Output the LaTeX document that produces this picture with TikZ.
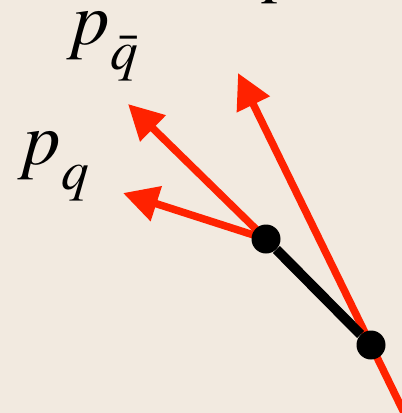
\documentclass[tikz,border=0pt]{standalone}
\usepackage{mathptmx}
\usepackage{xcolor}
\usetikzlibrary{arrows.meta}
\definecolor{paper}{HTML}{F2EAE0}
\definecolor{glred}{HTML}{FF2200}
\pgfdeclarelayer{bg}
\pgfsetlayers{bg,main}

\begin{document}
\begin{tikzpicture}[x=1pt, y=-1pt,
    dot/.style={circle, fill=black, minimum size=29pt, inner sep=0pt},
    parton/.style={draw=glred, line width=7.5pt,
      -{Triangle[length=35pt, width=35pt]}},
    stub/.style={draw=black, line width=10pt},
    lbl/.style={font=\fontsize{75}{80}\selectfont, inner sep=0pt,
      anchor=base west},
]
\useasboundingbox (0,0) rectangle (402,413);
\clip (0,0) rectangle (402,413);

% Vertices
\node[dot] (va) at (266,239) {};
\node[dot] (vb) at (371,345) {};

% Arrow tips and incoming end
\coordinate (tq) at (128,104);
\coordinate (tqb) at (123,193);
\coordinate (tg) at (238,73);
\coordinate (gin) at (411,427);

% Labels
\node[lbl] (pq) at (18,164) {$p_{\raisebox{-14pt}{$\scriptstyle q$}}$};
\node[lbl] (pqbar) at (67,44)
  {$p_{\raisebox{-14pt}{$\scriptstyle \bar q$}}$};
\node[lbl] (ptop) at (262,-12) {$p$};

\begin{pgfonlayer}{bg}
  \fill[paper] (0,0) rectangle (402,413);
  % Partons
  \draw[parton] (gin) -- (vb.center) -- (tg);
  \draw[parton] (va.center) -- (tq);
  \draw[parton] (va.center) -- (tqb);
  % Link
  \draw[stub] (va) -- (vb);
\end{pgfonlayer}

\end{tikzpicture}
\end{document}
